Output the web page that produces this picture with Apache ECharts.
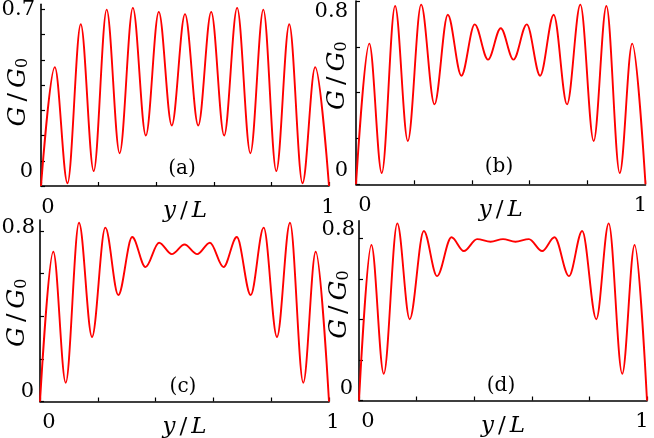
<!DOCTYPE html>
<html><head><meta charset="utf-8">
<script src="https://cdn.jsdelivr.net/npm/echarts@6/dist/echarts.min.js"></script>
<style>html,body{margin:0;padding:0;background:#fff}#c{width:654px;height:438px}</style>
</head><body><div id="c"></div>
<script>
// ---- data (extrema of G/G0 vs y/L) ----
const posA = [0, 0.048, 0.092, 0.138, 0.183, 0.228, 0.273, 0.319, 0.364, 0.409, 0.454, 0.5, 0.546, 0.591, 0.636, 0.681, 0.727, 0.772, 0.817, 0.862, 0.908, 0.952, 1];
const valA = [0, 0.471, 0.011, 0.641, 0.059, 0.699, 0.130, 0.706, 0.200, 0.690, 0.240, 0.681, 0.240, 0.690, 0.200, 0.706, 0.130, 0.699, 0.059, 0.641, 0.011, 0.471, 0];
const posB = [0, 0.046, 0.089, 0.135, 0.179, 0.225, 0.271, 0.317, 0.364, 0.410, 0.456, 0.5, 0.544, 0.590, 0.636, 0.683, 0.729, 0.775, 0.821, 0.865, 0.911, 0.954, 1];
const valB = [0, 0.614, 0.049, 0.778, 0.189, 0.784, 0.349, 0.740, 0.474, 0.698, 0.544, 0.681, 0.544, 0.698, 0.474, 0.740, 0.349, 0.784, 0.189, 0.778, 0.049, 0.614, 0];
const posC = [0, 0.046, 0.089, 0.135, 0.180, 0.226, 0.271, 0.319, 0.365, 0.412, 0.456, 0.5, 0.544, 0.588, 0.635, 0.681, 0.729, 0.774, 0.820, 0.865, 0.911, 0.954, 1];
const valC = [0, 0.703, 0.088, 0.839, 0.303, 0.816, 0.500, 0.772, 0.631, 0.745, 0.692, 0.737, 0.692, 0.745, 0.631, 0.772, 0.500, 0.816, 0.303, 0.839, 0.088, 0.703, 0];
const posD = [0, 0.043, 0.086, 0.133, 0.176, 0.225, 0.271, 0.321, 0.364, 0.410, 0.457, 0.5, 0.543, 0.590, 0.636, 0.679, 0.729, 0.775, 0.824, 0.867, 0.914, 0.957, 1];
const valD = [0, 0.769, 0.132, 0.876, 0.402, 0.838, 0.615, 0.807, 0.739, 0.798, 0.785, 0.798, 0.785, 0.798, 0.739, 0.807, 0.615, 0.838, 0.402, 0.876, 0.132, 0.769, 0];

const panelLabels = ['(a)', '(b)', '(c)', '(d)'];
const xTickLabels = ['0', '1'];
const yTopTicks = [0.7, 0.8, 0.8, 0.8];
const yTopLabels = ['0.7', '0.8', '0.8', '0.8'];
const yZeroLabel = '0';
const yTickValsA = [0, 0.1, 0.2, 0.3, 0.4, 0.5, 0.6, 0.7];
const yTickValsB = [0, 0.2, 0.4, 0.6, 0.8];
const xTickVals = [0, 0.2, 0.4, 0.6, 0.8, 1];

// ---- layout / style ----
const SERIF = 'DejaVu Serif';
const layout = [
  {grid:{left:41, top:4.3, width:288, height:181.7}, yMax:0.72, yTicks:yTickValsA, x0:7, x1:-1, zUp:14, tDown:0.5, zR:4, tR:2, nameShift:3, nameGap:10, lab:[182,169]},
  {grid:{left:356, top:1, width:289.5, height:183.3}, yMax:0.8, yTicks:yTickValsB, x0:9, x1:-5, zUp:14, tDown:11, zR:4, tR:4, nameShift:17, nameGap:6, lab:[499,167]},
  {grid:{left:40, top:220, width:289, height:181.5}, yMax:0.852, yTicks:yTickValsB, x0:9, x1:4, zUp:10, tDown:-4, zR:2, tR:1, nameShift:-2, nameGap:10, lab:[183,387]},
  {grid:{left:359, top:220.7, width:288, height:179.8}, yMax:0.889, yTicks:yTickValsB, x0:9, x1:-5, zUp:11.5, tDown:-9, zR:2, tR:0, nameShift:6, nameGap:7, lab:[501,386]}
];
const dataSets = [[posA, valA], [posB, valB], [posC, valC], [posD, valD]];

const axisLineStyle = {color:'#000', width:1.6};
const lblFont = {fontFamily:SERIF, fontSize:21, color:'#000', lineHeight:21};

function hpad(dx){ return dx >= 0 ? [0,0,0,2*dx] : [0,-2*dx,0,0]; }

const grids = [], xAxes = [], yAxes = [], series = [], graphics = [];
layout.forEach((L, i) => {
  grids.push(Object.assign({containLabel:false, outerBoundsMode:'none'}, L.grid));
  xAxes.push({
    type:'value', gridIndex:i, min:0, max:1, interval:0.2,
    axisLine:{show:true, lineStyle:axisLineStyle},
    axisTick:{show:true, inside:true, length:4, lineStyle:{color:'#000', width:1.2}, customValues:xTickVals},
    splitLine:{show:false},
    axisLabel:{
      show:true, margin:11, customValues:[0,1],
      formatter:(v) => v === 0 ? '{z|' + xTickLabels[0] + '}' : (Math.abs(v - 1) < 1e-9 ? '{o|' + xTickLabels[1] + '}' : ''),
      rich:{
        z:Object.assign({padding:hpad(L.x0)}, lblFont),
        o:Object.assign({padding:hpad(L.x1)}, lblFont)
      }
    },
    name:'{i|y}{s|/}{i|L}', nameLocation:'middle', nameGap:14, nameMoveOverlap:false,
    nameTextStyle:{rich:{
      i:{fontFamily:SERIF, fontStyle:'italic', fontSize:23, color:'#000', lineHeight:23},
      s:{fontFamily:SERIF, fontSize:23, color:'#000', lineHeight:23, padding:[0,4]}
    }}
  });
  const tPad = L.tDown >= 0 ? [2*L.tDown, L.tR, 0, 0] : [0, L.tR, -2*L.tDown, 0];
  yAxes.push({
    type:'value', gridIndex:i, min:0, max:L.yMax,
    axisLine:{show:true, lineStyle:axisLineStyle},
    axisTick:{show:true, inside:true, length:4, lineStyle:{color:'#000', width:1.2}, customValues:L.yTicks},
    splitLine:{show:false},
    axisLabel:{
      show:true, margin:4, customValues:[0, yTopTicks[i]],
      formatter:(v) => v === 0 ? '{z|' + yZeroLabel + '}' : (Math.abs(v - yTopTicks[i]) < 1e-9 ? '{t|' + yTopLabels[i] + '}' : ''),
      rich:{
        z:Object.assign({padding:[0, L.zR, 2*L.zUp, 0]}, lblFont),
        t:Object.assign({padding:tPad}, lblFont)
      }
    },
    name:'{g|G}{s|/}{g|G}{b|0}', nameLocation:'middle', nameRotate:90, nameGap:L.nameGap, nameMoveOverlap:false,
    nameTextStyle:{padding:L.nameShift >= 0 ? [0,0,0,2*L.nameShift] : [0,-2*L.nameShift,0,0], rich:{
      g:{fontFamily:SERIF, fontStyle:'italic', fontSize:25, color:'#000', lineHeight:25},
      s:{fontFamily:SERIF, fontSize:25, color:'#000', lineHeight:25, padding:[0,5]},
      b:{fontFamily:SERIF, fontSize:16, color:'#000', lineHeight:25, verticalAlign:'bottom', padding:[8,0,0,0]}
    }}
  });
  const [pos, val] = dataSets[i];
  series.push({
    type:'line', xAxisIndex:i, yAxisIndex:i,
    data:pos.map((x, k) => [x, val[k]]),
    showSymbol:false, smooth:0.34, smoothMonotone:'x',
    lineStyle:{color:'#ff0000', width:1.9}, animation:false, z:3
  });
  graphics.push({
    type:'text', x:L.lab[0], y:L.lab[1],
    style:{text:panelLabels[i], fontFamily:SERIF, fontSize:20, fill:'#000', textAlign:'center', textVerticalAlign:'middle'}
  });
});

const chart = echarts.init(document.getElementById('c'), null, {renderer:'canvas'});
chart.setOption({
  backgroundColor:'#fff', animation:false,
  grid:grids, xAxis:xAxes, yAxis:yAxes, series:series, graphic:graphics
});
</script>
</body></html>
